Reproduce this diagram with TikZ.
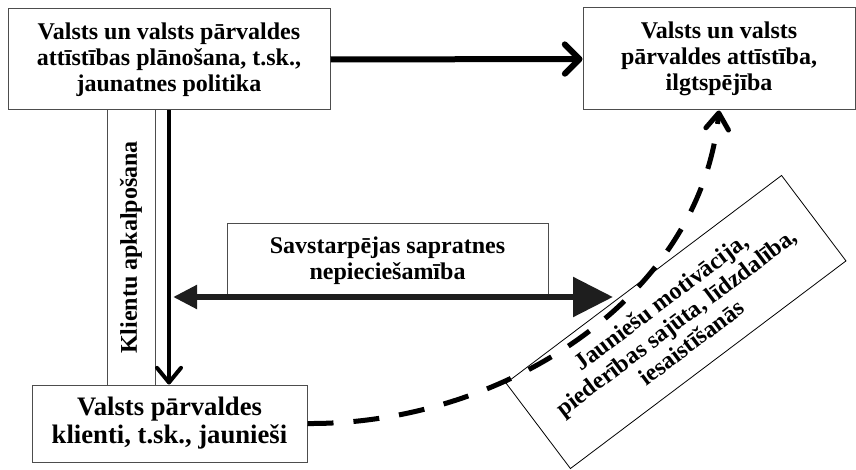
\documentclass[tikz,border=0pt]{standalone}
\usepackage{fontspec}
\setmainfont{Liberation Serif}
\usetikzlibrary{arrows.meta}

\tikzset{every picture/.style={line width=0.75pt}}
\tikzset{
  box/.style={draw={rgb, 255:red, 77; green, 77; blue, 77 }, fill=white, inner sep=0.75pt, align=center,
    font=\bfseries\fontsize{18}{19.5}\selectfont},
  tiltbox/.style={draw=black, line width=0.6pt, fill=white, inner sep=0.75pt, align=center,
    font=\bfseries\fontsize{18}{19}\selectfont},
  barb/.style={-{Straight Barb[length=11pt,width=22pt,round]}, color=black},
  flow/.style={barb, line width=4.5pt},
  serve/.style={-{Straight Barb[length=11pt,width=18pt,round]}, line width=3pt},
  mutual/.style={{Triangle[length=18pt,width=17pt]}-{Triangle[length=30pt,width=29pt]}, line width=5pt,
    color={rgb, 255:red, 30; green, 30; blue, 30 }},
  link/.style={-{Straight Barb[length=12pt,width=17pt,round]}, line width=3.75pt, dash pattern=on 19.5pt off 15pt}
}

\begin{document}
\begin{tikzpicture}[x=0.75pt,y=0.75pt,yscale=-1,xscale=1]
\path (0,0) rectangle (856,470); %set diagram size

%Shape: Rectangle [plan]
\node (plan) [box, minimum width=241.5pt, minimum height=75.75pt] at (169,59.5)
  {Valsts un valsts pārvaldes\\attīstības plānošana, t.sk.,\\jaunatnes politika};
%Shape: Rectangle [goal]
\node (goal) [box, minimum width=204pt, minimum height=76.5pt] at (719,59)
  {Valsts un valsts\\pārvaldes attīstība,\\ilgtspējība};
%Shape: Rectangle [service]
\node (service) [box, rotate=90, minimum width=206.25pt, minimum height=36pt] at (131,247.5)
  {Klientu apkalpošana};
%Shape: Rectangle [need]
\node (need) [box, minimum width=240.75pt, minimum height=56.25pt] at (387.5,261)
  {Savstarpējas sapratnes\\nepieciešamība};
%Shape: Rectangle [clients]
\node (clients) [box, font=\bfseries\fontsize{20}{21}\selectfont, minimum width=206.25pt, minimum height=57.75pt] at (169.5,423.5)
  {Valsts pārvaldes\\klienti, t.sk., jaunieši};
%Shape: Rectangle [youth]
\node (youth) [tiltbox, rotate=37, minimum width=258.75pt, minimum height=80.25pt] at (676,322)
  {Jauniešu motivācija,\\piederības sajūta, līdzdalība,\\iesaistīšanās};

\coordinate (lend) at (173,297);
\coordinate (rend) at (613,297);

%Straight Lines
\draw [flow] (plan.east) -- (goal.west);
%Straight Lines
\draw [serve] (plan.south) -- (plan.south |- clients.north);
%Straight Lines
\draw [mutual] (lend) -- (rend);
%Curve Lines
\draw [link] (clients.east) .. controls (500,425) and (700,300) .. (goal.south);

\end{tikzpicture}
\end{document}
